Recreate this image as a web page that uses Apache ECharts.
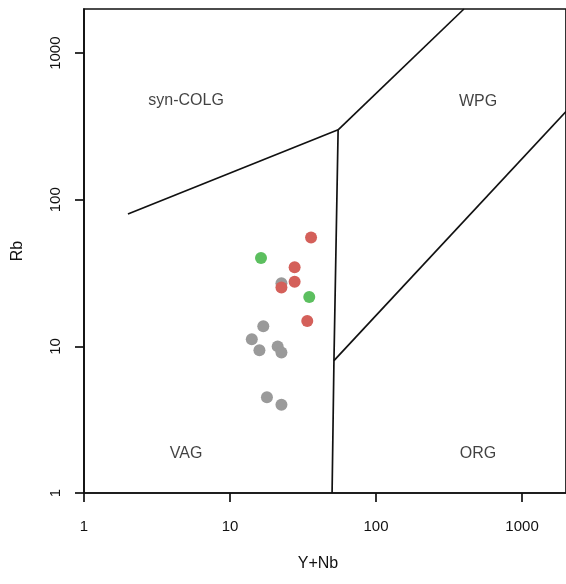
<!DOCTYPE html>
<html>
<head>
<meta charset="utf-8">
<script src="https://cdn.jsdelivr.net/npm/echarts@6/dist/echarts.min.js"></script>
<style>
  html, body { margin: 0; padding: 0; background: #fff; }
  #chart { width: 566px; height: 584px; }
</style>
</head>
<body>
<div id="chart"></div>
<script>
// tick values (log axes)
const xTicks = [1, 10, 100, 1000]
const yTicks = [1, 10, 100, 1000]

// samples [Y+Nb, Rb]
const grayPts = [
  [22.5, 27.0], [16.9, 13.7], [14.1, 11.2], [15.9, 9.4],
  [21.2, 10.0], [22.5, 9.1], [17.9, 4.5], [22.5, 4.0]
]
const redPts = [
  [35.9, 55.3], [27.7, 34.7], [27.7, 27.6], [22.5, 25.2], [33.8, 14.9]
]
const greenPts = [
  [16.3, 40.0], [34.9, 21.7]
]

// field boundaries (Pearce et al. 1984)
const colgVag = [[2, 80], [55, 300]]
const vagWpg = [[55, 300], [51.5, 8], [50, 1]]
const colgWpg = [[55, 300], [400, 2000]]
const wpgOrg = [[51.5, 8], [2000, 400]]

// field names
const fieldNames = ['syn-COLG', 'WPG', 'VAG', 'ORG']
const fieldPos = [[5, 475], [500, 465], [5, 1.85], [500, 1.85]]

const chart = echarts.init(document.getElementById('chart'))

const font = 'Liberation Sans, Arial, sans-serif'
const ink = '#111'
const lineStyle = { color: ink, width: 1.7 }

const boundary = (data) => ({
  type: 'line',
  data: data,
  symbol: 'none',
  silent: true,
  lineStyle: lineStyle,
  z: 1
})

const points = (data, color) => ({
  type: 'scatter',
  data: data,
  symbolSize: 12,
  itemStyle: { color: color, opacity: 1 },
  z: 3
})

const plain = (v) => String(Math.round(v))

chart.setOption({
  animation: false,
  grid: {
    left: 84, top: 9, width: 485, height: 484,
    show: true, borderColor: ink, borderWidth: 1.7
  },
  xAxis: {
    type: 'log', logBase: 10, min: 1, max: 2000,
    name: 'Y+Nb', nameLocation: 'middle', nameGap: 63,
    nameTextStyle: { fontFamily: font, fontSize: 16, color: ink, padding: [0, 14, 0, 0] },
    axisLine: { show: true, lineStyle: { color: ink, width: 1.7 } },
    axisTick: { show: true, length: 9, customValues: xTicks, lineStyle: { color: ink, width: 1.7 } },
    axisLabel: { customValues: xTicks, formatter: plain, margin: 26, fontFamily: font, fontSize: 15, color: ink },
    splitLine: { show: false },
    minorTick: { show: false }
  },
  yAxis: {
    type: 'log', logBase: 10, min: 1, max: 2000,
    name: 'Rb', nameLocation: 'middle', nameGap: 58, nameRotate: 90,
    nameTextStyle: { fontFamily: font, fontSize: 16, color: ink },
    axisLine: { show: true, lineStyle: { color: ink, width: 1.7 } },
    axisTick: { show: true, length: 9, customValues: yTicks, lineStyle: { color: ink, width: 1.7 } },
    axisLabel: { customValues: yTicks, formatter: plain, rotate: 90, margin: 21, fontFamily: font, fontSize: 15, color: ink },
    splitLine: { show: false }
  },
  series: [
    boundary(colgVag),
    boundary(vagWpg),
    boundary(colgWpg),
    boundary(wpgOrg),
    {
      type: 'scatter',
      silent: true,
      symbolSize: 0,
      data: fieldNames.map((n, i) => ({ name: n, value: fieldPos[i] })),
      label: {
        show: true, position: 'inside', formatter: '{b}',
        fontFamily: font, fontSize: 16, color: ink
      }
    },
    points(grayPts, '#9a9a9a'),
    points(redPts, '#d4605a'),
    points(greenPts, '#5cbf5f')
  ]
})
</script>
</body>
</html>
